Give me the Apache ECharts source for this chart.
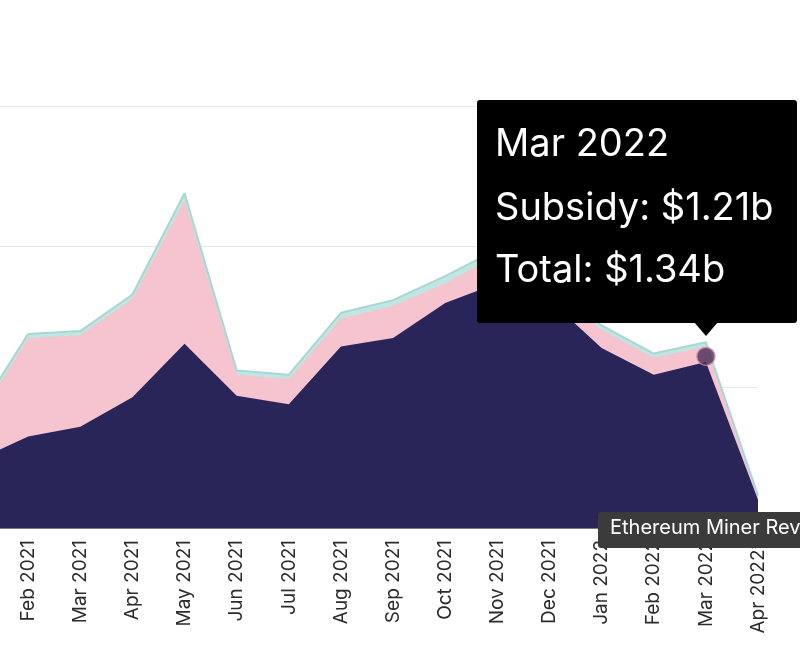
<!DOCTYPE html>
<html><head><meta charset="utf-8">
<script src="https://cdn.jsdelivr.net/npm/echarts@6/dist/echarts.min.js"></script>
<style>html,body{margin:0;padding:0;background:#fff}#c{width:800px;height:666px}</style>
</head><body><div id="c"></div>
<script>
const categories = ['Jan 2021','Feb 2021','Mar 2021','Apr 2021','May 2021','Jun 2021','Jul 2021','Aug 2021','Sep 2021','Oct 2021','Nov 2021','Dec 2021','Jan 2022','Feb 2022','Mar 2022','Apr 2022*'];
const subsidy = [0.48,0.65,0.72,0.93,1.31,0.94,0.88,1.29,1.35,1.60,1.74,1.62,1.28,1.09,1.18,0.20];
const fees    = [0.28,0.70,0.65,0.70,1.02,0.15,0.18,0.20,0.23,0.14,0.20,0.07,0.13,0.12,0.11,0.01];
const uncles  = [0.03,0.03,0.03,0.03,0.05,0.03,0.03,0.04,0.04,0.05,0.04,0.04,0.03,0.03,0.03,0.02];
const tooltipLines = ['Mar 2022','Subsidy: $1.21b','Total: $1.34b'];
const chart = echarts.init(document.getElementById('c'));
const ff = 'Inter, "Noto Sans", sans-serif';
const s1 = subsidy.map((v,i)=>[i,v]);
const s2 = subsidy.map((v,i)=>[i,v+fees[i]]);
const s3 = subsidy.map((v,i)=>[i,v+fees[i]+uncles[i]]);
chart.setOption({
  animation:false,
  grid:{left:0,right:42,top:106,bottom:138},
  xAxis:{type:'value',min:0.46,max:15,
    axisLine:{lineStyle:{color:'#555',width:1.5}},axisTick:{show:false},splitLine:{show:false},
    axisLabel:{customValues:[1,2,3,4,5,6,7,8,9,10,11,12,13,14,15],formatter:v=>categories[Math.round(v)],
      rotate:90,color:'#2b2b2b',fontSize:19,fontFamily:ff,margin:12,overflow:'none',showMaxLabel:true}},
  yAxis:{type:'value',min:0,max:3,interval:1,axisLabel:{show:false},
    splitLine:{lineStyle:{color:'#e6e6e6'}},axisLine:{show:false}},
  series:[
    {name:'Uncles',type:'line',data:s3,symbol:'none',lineStyle:{width:2,color:'#a9d6d3'},areaStyle:{color:'#bfe6e2',opacity:1},z:1},
    {name:'Fees',type:'line',data:s2,symbol:'none',lineStyle:{width:0},areaStyle:{color:'#f5c4cf',opacity:1},z:2},
    {name:'Subsidy',type:'line',data:s1,symbol:'none',lineStyle:{width:0},areaStyle:{color:'#2a2559',opacity:1},z:3},
    {type:'scatter',data:[[14,subsidy[14]+0.04]],symbolSize:18,itemStyle:{color:'#4a2a55',borderColor:'#c98aa0',borderWidth:1.5},z:5}
  ],
  graphic:[
    {type:'rect',shape:{x:477,y:100,width:320,height:223,r:3},style:{fill:'#000'},z:10},
    {type:'polygon',shape:{points:[[694,322],[718,322],[706,336]]},style:{fill:'#000'},z:10},
    {type:'text',left:495,top:126,style:{text:tooltipLines[0],fill:'#fff',font:'38px '+ff},z:11},
    {type:'text',left:495,top:190,style:{text:tooltipLines[1],fill:'#fff',font:'38px '+ff},z:11},
    {type:'text',left:495,top:252,style:{text:tooltipLines[2],fill:'#fff',font:'38px '+ff},z:11},
    {type:'rect',shape:{x:598,y:512,width:210,height:36,r:3},style:{fill:'#3b3b3b'},z:10},
    {type:'text',left:610,top:518,style:{text:'Ethereum Miner Revenue',fill:'#fff',font:'20px '+ff},z:11}
  ]
});
</script></body></html>
